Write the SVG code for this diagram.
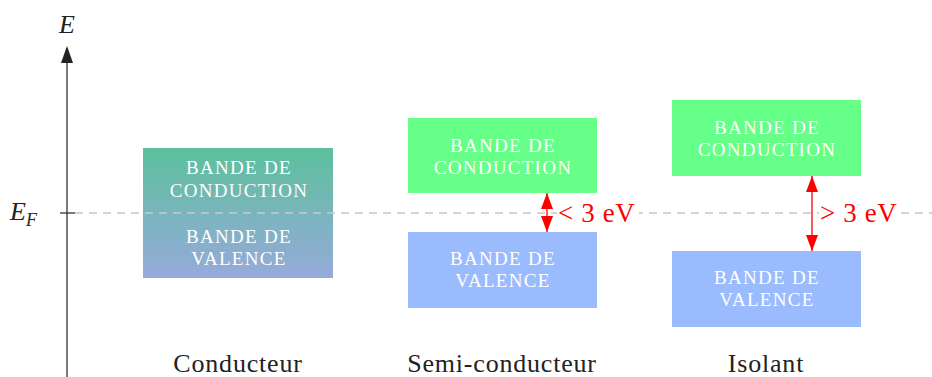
<svg xmlns="http://www.w3.org/2000/svg" width="932" height="377" viewBox="0 0 932 377">
<defs>
<linearGradient id="gc" x1="0" y1="0" x2="0" y2="1">
<stop offset="0" stop-color="#5cc09c"/>
<stop offset="1" stop-color="#96aadb"/>
</linearGradient>
<marker id="rh" viewBox="0 0 16 12" refX="16" refY="6" markerWidth="16" markerHeight="12" markerUnits="userSpaceOnUse" orient="auto-start-reverse">
<path d="M0,0 L16,6 L0,12 z" fill="#ff0000"/>
</marker>
</defs>
<style>
text{font-family:'Liberation Serif','DejaVu Serif',serif}
.bt{font-size:19px;fill:#ffffff;text-anchor:middle;letter-spacing:1.3px}
.lbl{font-size:26px;fill:#222;text-anchor:middle;letter-spacing:0.8px}
.math{font-style:italic;fill:#222}
.red{font-size:27px;fill:#ff0000;letter-spacing:0.6px}
.cb{fill:#66ff88}
.vb{fill:#9bbbff}
</style>
<g id="connectors">
<line x1="67" y1="377" x2="67" y2="48" stroke="#333" stroke-width="1.3"/>
<path d="M67,46 L61,63 L73,63 z" fill="#222"/>
<line x1="60" y1="213" x2="75" y2="213" stroke="#333" stroke-width="1.3"/>
</g>
<g id="conducteur">
<rect x="143" y="148" width="190" height="130" fill="url(#gc)"/>
<text class="bt" x="239" y="174">BANDE DE</text>
<text class="bt" x="239" y="197">CONDUCTION</text>
<text class="bt" x="239" y="243">BANDE DE</text>
<text class="bt" x="239" y="265">VALENCE</text>
<text class="lbl" x="238" y="372">Conducteur</text>
</g>
<g id="semi">
<rect class="cb" x="408" y="118" width="189" height="75"/>
<text class="bt" x="503" y="152">BANDE DE</text>
<text class="bt" x="503" y="174">CONDUCTION</text>
<rect class="vb" x="408" y="232" width="189" height="76"/>
<text class="bt" x="503" y="265">BANDE DE</text>
<text class="bt" x="503" y="287">VALENCE</text>
<text class="lbl" x="502" y="372">Semi-conducteur</text>
</g>
<g id="isolant">
<rect class="cb" x="672" y="100" width="189" height="76"/>
<text class="bt" x="767" y="134">BANDE DE</text>
<text class="bt" x="767" y="156">CONDUCTION</text>
<rect class="vb" x="672" y="251" width="189" height="76"/>
<text class="bt" x="767" y="284">BANDE DE</text>
<text class="bt" x="767" y="306">VALENCE</text>
<text class="lbl" x="766" y="372">Isolant</text>
</g>
<g id="fermi">
<line x1="75" y1="213" x2="932" y2="213" stroke="#c8c8c8" stroke-width="1.3" stroke-dasharray="8,6"/>
</g>
<g id="gaps">
<line x1="547" y1="193" x2="547" y2="232" stroke="#ff0000" stroke-width="1.3" marker-start="url(#rh)" marker-end="url(#rh)"/>
<rect x="557" y="201" width="82" height="24" fill="#fff"/>
<text class="red" x="558" y="222">&lt; 3 eV</text>
<line x1="812" y1="176" x2="812" y2="251" stroke="#ff0000" stroke-width="1.3" marker-start="url(#rh)" marker-end="url(#rh)"/>
<rect x="819" y="201" width="79" height="24" fill="#fff"/>
<text class="red" x="820" y="222">&gt; 3 eV</text>
</g>
<g id="labels">
<text class="math" x="67" y="33" font-size="26" text-anchor="middle">E</text>
<text class="math" x="10" y="220" font-size="26">E<tspan font-size="18" dy="6">F</tspan></text>
</g>
</svg>
